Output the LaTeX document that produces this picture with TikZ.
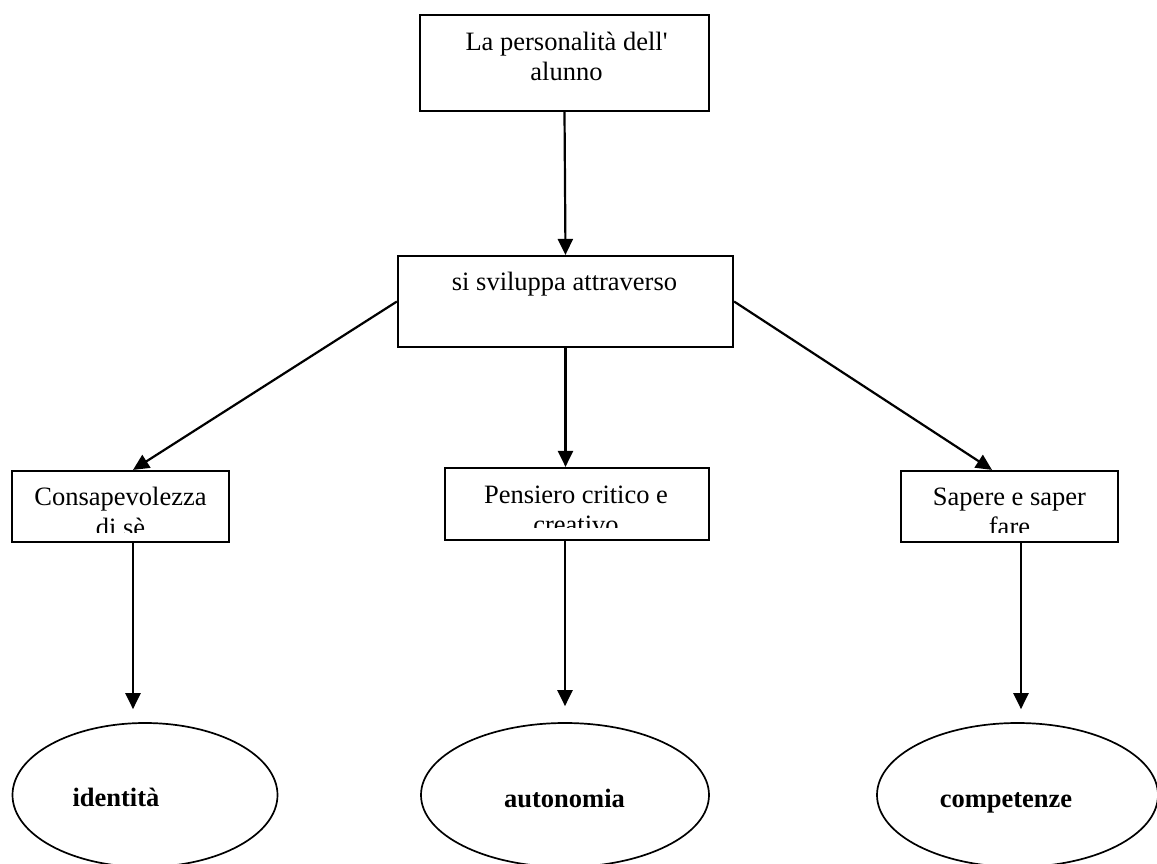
\documentclass[tikz,border=0pt]{standalone}
\usepackage{fontspec}
\setmainfont{Liberation Serif}
\usetikzlibrary{arrows.meta,shapes.geometric}

\begin{document}
\begin{tikzpicture}[x=1pt,y=-1pt,
  box/.style={draw,rectangle,line width=2.2pt,inner sep=0pt},
  oval/.style={draw,ellipse,line width=1.7pt,inner sep=0pt,minimum height=144pt},
  txt/.style={anchor=base,align=center,inner sep=0pt,font=\fontsize{26.5pt}{30.5pt}\selectfont},
  arr/.style={-{Triangle[length=16pt,width=15pt]},line width=2.2pt}]
\useasboundingbox (0,0) rectangle (1157,863);

\node[box,minimum width=289pt,minimum height=96pt] (pers) at (564.5,63) {};
\node[box,minimum width=335pt,minimum height=91pt] (svil) at (565.5,301.5) {};
\node[box,minimum width=217pt,minimum height=71pt] (cons) at (120.5,506.5) {};
\node[box,minimum width=264pt,minimum height=72pt] (pens) at (577,504) {};
\node[box,minimum width=217pt,minimum height=71pt] (sape) at (1009.5,506.5) {};

\node[oval,minimum width=265pt] (iden) at (145,795) {};
\node[oval,minimum width=288pt] (auto) at (565,795) {};
\node[oval,minimum width=281pt] (comp) at (1017.5,795) {};

% texts (base = last line)
\node[txt] (t-pers) at (566.5,80.5) {La personalità dell\textquotesingle\\alunno};
\node[txt] (t-svil) at (564.5,290) {si sviluppa attraverso};
\begin{scope}
  \clip (12,471) rectangle (229,532);
  \node[txt] (t-cons) at (120.5,536) {Consapevolezza\\di sè};
\end{scope}
\begin{scope}
  \clip (445,468) rectangle (709,527);
  \node[txt] (t-pens) at (576,533.5) {Pensiero critico e\\creativo};
\end{scope}
\begin{scope}
  \clip (901,471) rectangle (1118,532.5);
  \node[txt] (t-sape) at (1009.5,535.5) {Sapere e saper\\fare};
\end{scope}
\node[txt,font=\fontsize{26.5pt}{30.5pt}\selectfont\bfseries] (t-iden) at (116,806.5) {identità};
\node[txt,font=\fontsize{26.5pt}{30.5pt}\selectfont\bfseries] (t-auto) at (564.5,807.5) {autonomia};
\node[txt,font=\fontsize{26.5pt}{30.5pt}\selectfont\bfseries] (t-comp) at (1006,807) {competenze};

% arrows
\draw[arr] (pers.south) -- (svil.north);
\draw[arr] (svil.west) -- ([xshift=12.5pt]cons.north);
\draw[arr] (svil.south) -- (svil.south |- pens.north);
\draw[arr] (svil.east) -- ([xshift=-17.5pt]sape.north);

\draw[arr,shorten >=13pt] ([xshift=12.5pt]cons.south) -- ([xshift=12.5pt]cons.south |- iden.north);
\draw[arr,shorten >=16pt] (pens.south -| auto.north) -- (auto.north);
\draw[arr,shorten >=13pt] ([xshift=11.5pt]sape.south) -- ([xshift=11.5pt]sape.south |- comp.north);
\end{tikzpicture}
\end{document}
